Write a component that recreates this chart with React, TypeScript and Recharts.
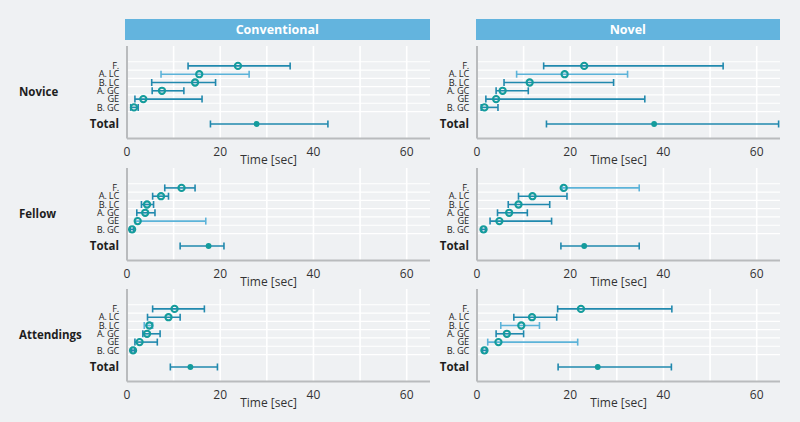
import React from 'react';
import { ScatterChart, Scatter, XAxis, YAxis, ErrorBar, ReferenceLine } from 'recharts';

const rowLabels = ['F.', 'A. LC', 'B. LC', 'A. GC', 'GE', 'B. GC', 'Total'];
const rowPos = [0, 1, 2, 3, 4, 5, 7];
const xTicks = [0, 20, 40, 60];
const gridX = [10, 20, 30, 40, 50, 60];
const gridY = [-0.5, 0.5, 1.5, 2.5, 3.5, 4.5, 5.5];

const noviceConvLow = [13.1, 7.3, 5.3, 5.4, 1.7, 0.8, 17.9];
const noviceConvMed = [23.8, 15.5, 14.6, 7.5, 3.5, 1.5, 27.8];
const noviceConvHigh = [35.0, 26.2, 19.0, 12.2, 16.1, 2.4, 43.1];
const noviceConvLight = [false, true, false, false, false, false, false];

const noviceNovelLow = [14.3, 8.5, 5.8, 4.1, 1.9, 0.9, 14.9];
const noviceNovelMed = [23.0, 18.8, 11.3, 5.5, 4.1, 1.6, 38.0];
const noviceNovelHigh = [52.8, 32.3, 29.3, 11.0, 36.0, 4.5, 64.7];
const noviceNovelLight = [false, true, false, false, false, false, false];

const fellowConvLow = [8.1, 5.5, 3.1, 2.1, 1.8, 0.7, 11.4];
const fellowConvMed = [11.7, 7.3, 4.3, 3.9, 2.3, 1.1, 17.5];
const fellowConvHigh = [14.6, 8.9, 5.7, 6.0, 16.9, 1.4, 20.8];
const fellowConvLight = [false, false, false, false, true, false, false];

const fellowNovelLow = [18.3, 8.9, 6.7, 4.4, 2.8, 1.0, 18.0];
const fellowNovelMed = [18.6, 11.9, 8.9, 6.9, 4.8, 1.4, 23.0];
const fellowNovelHigh = [34.8, 19.3, 15.6, 10.8, 16.0, 1.8, 34.8];
const fellowNovelLight = [true, false, false, false, false, false, false];

const attConvLow = [5.5, 4.4, 3.7, 3.4, 1.7, 1.0, 9.3];
const attConvMed = [10.2, 8.9, 4.8, 4.3, 2.7, 1.3, 13.6];
const attConvHigh = [16.6, 11.4, 5.5, 7.1, 6.5, 1.6, 19.4];
const attConvLight = [false, false, true, false, false, false, false];

const attNovelLow = [17.3, 7.9, 5.1, 4.1, 2.3, 1.2, 17.4];
const attNovelMed = [22.3, 11.8, 9.5, 6.4, 4.6, 1.6, 25.9];
const attNovelHigh = [41.8, 17.1, 13.4, 10.0, 21.6, 2.0, 41.7];
const attNovelLight = [false, false, true, false, true, false, false];

const columnTitles = ['Conventional', 'Novel'];
const groupTitles = ['Novice', 'Fellow', 'Attendings'];

const FONT = '"Open Sans", "Noto Sans", sans-serif';
const DARK = '#2189ae';
const LIGHT = '#5cb3d9';
const MARK = '#149c9c';

function build(lo: number[], med: number[], hi: number[], light: boolean[]) {
  return rowLabels.map((label, i) => ({
    label,
    y: rowPos[i],
    x: med[i],
    err: [med[i] - lo[i], hi[i] - med[i]],
    total: label === 'Total',
    light: light[i],
  }));
}

const panels = [
  [build(noviceConvLow, noviceConvMed, noviceConvHigh, noviceConvLight), build(noviceNovelLow, noviceNovelMed, noviceNovelHigh, noviceNovelLight)],
  [build(fellowConvLow, fellowConvMed, fellowConvHigh, fellowConvLight), build(fellowNovelLow, fellowNovelMed, fellowNovelHigh, fellowNovelLight)],
  [build(attConvLow, attConvMed, attConvHigh, attConvLight), build(attNovelLow, attNovelMed, attNovelHigh, attNovelLight)],
];

const colLeft = [126.5, 477];
const rowTop = [46, 168, 289];
const PLOT_W = 303;
const PLOT_H = 92.5;
const Y_W = 70;
const X_H = 30;

const YTick = (props: any) => {
  const { x, y, payload } = props;
  const idx = rowPos.indexOf(payload.value);
  const isTotal = payload.value === 7;
  return (
    <text
      x={x}
      y={y}
      dy={isTotal ? 4 : 3.2}
      textAnchor="end"
      fontFamily={FONT}
      fontSize={isTotal ? 11.5 : 9.2}
      fontWeight={isTotal ? 700 : 400}
      fill="#1e1e1e"
      letterSpacing={isTotal ? 0 : -0.2}
    >
      {rowLabels[idx]}
    </text>
  );
};

const Marker = (props: any) => {
  const { cx, cy, payload } = props;
  if (cx == null || cy == null) return null;
  if (payload.total) {
    return <circle cx={cx} cy={cy} r={2.9} fill={MARK} stroke="none" />;
  }
  return <circle cx={cx} cy={cy} r={3.1} fill="none" stroke={MARK} strokeWidth={2.1} />;
};

function Panel({ data }: { data: any[] }) {
  const darkData = data.filter((d) => !d.light);
  const lightData = data.filter((d) => d.light);
  return (
    <ScatterChart width={Y_W + PLOT_W} height={PLOT_H + X_H} margin={{ top: 0, right: 0, bottom: 0, left: 0 }}>
      {gridX.map((g) => (
        <ReferenceLine key={'gx' + g} x={g} stroke="#ffffff" strokeWidth={1.6} />
      ))}
      {gridY.map((g) => (
        <ReferenceLine key={'gy' + g} y={g} stroke="#ffffff" strokeWidth={1.2} />
      ))}
      <XAxis
        type="number"
        dataKey="x"
        domain={[0, 65]}
        ticks={xTicks}
        tickLine={false}
        tickMargin={3}
        axisLine={{ stroke: '#b9bbbd', strokeWidth: 2 }}
        tick={{ fill: '#333', fontSize: 12, fontFamily: FONT }}
        height={X_H}
        allowDataOverflow
        label={{ value: 'Time [sec]', position: 'insideBottom', offset: 5, dx: -10, fill: '#333', fontSize: 12, fontFamily: FONT }}
      />
      <YAxis
        type="number"
        dataKey="y"
        domain={[-2.4, 8.75]}
        reversed
        ticks={rowPos}
        interval={0}
        tickLine={false}
        axisLine={{ stroke: '#b9bbbd', strokeWidth: 2 }}
        tick={<YTick />}
        width={Y_W}
        allowDataOverflow
      />
      <Scatter data={darkData} isAnimationActive={false} shape={<Marker />}>
        <ErrorBar dataKey="err" direction="x" width={3.5} stroke={DARK} strokeWidth={1.6} isAnimationActive={false} />
      </Scatter>
      <Scatter data={lightData} isAnimationActive={false} shape={<Marker />}>
        <ErrorBar dataKey="err" direction="x" width={3.5} stroke={LIGHT} strokeWidth={1.6} isAnimationActive={false} />
      </Scatter>
    </ScatterChart>
  );
}

export default function App() {
  return (
    <div
      style={{
        position: 'absolute',
        left: 0,
        top: 0,
        width: 800,
        height: 422,
        background: '#eff1f3',
        fontFamily: FONT,
        overflow: 'hidden',
      }}
    >
      {columnTitles.map((t, c) => (
        <div
          key={t}
          style={{
            position: 'absolute',
            left: colLeft[c] - 1.5,
            top: 19,
            width: PLOT_W + 1.5,
            height: 21,
            background: '#63b4de',
            color: '#fff',
            fontWeight: 700,
            fontSize: 12.5,
            lineHeight: '21px',
            textAlign: 'center',
          }}
        >
          {t}
        </div>
      ))}
      {groupTitles.map((g, r) => (
        <div
          key={g}
          style={{
            position: 'absolute',
            left: 19,
            top: rowTop[r] + PLOT_H / 2 - 9,
            height: 18,
            lineHeight: '18px',
            fontWeight: 700,
            fontSize: 11.5,
            color: '#1e1e1e',
          }}
        >
          {g}
        </div>
      ))}
      {panels.map((row, r) =>
        row.map((data, c) => (
          <div key={r + '-' + c} style={{ position: 'absolute', left: colLeft[c] - Y_W, top: rowTop[r] }}>
            <Panel data={data} />
          </div>
        ))
      )}
    </div>
  );
}
